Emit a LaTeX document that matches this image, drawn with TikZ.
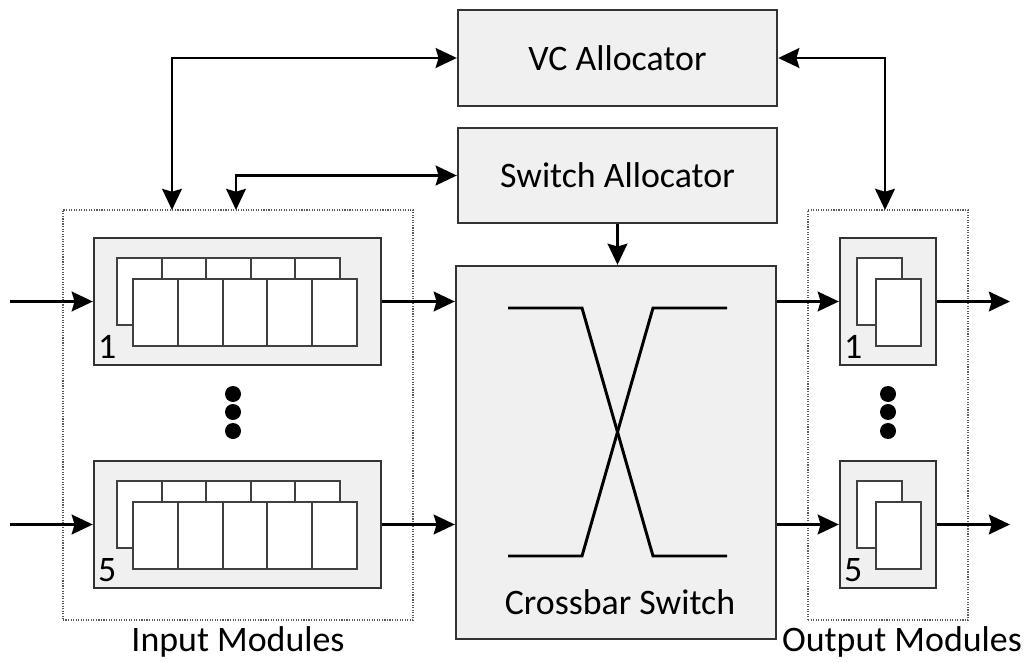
\documentclass[tikz,border=0pt]{standalone}
\usepackage{fontspec}
\setmainfont{Carlito}
\usetikzlibrary{arrows.meta}

\begin{document}
\begin{tikzpicture}[x=0.025cm, y=-0.025cm,
  blk/.style={draw=black!80, line width=1.6pt, fill=black!6, inner sep=0pt},
  grp/.style={draw=black!65, densely dotted, line width=0.8pt, inner sep=0pt},
  buf/.style={draw=black!75, line width=1.3pt, fill=white},
  lnk/.style={line width=2.1pt, -{Stealth[length=15pt,width=14pt,inset=2pt]}},
  both/.style={line width=2.1pt, {Stealth[length=15pt,width=14pt,inset=2pt]}-{Stealth[length=15pt,width=14pt,inset=2pt]}},
  big/.style={font=\fontsize{25.5}{30}\selectfont},
  grplbl/.style={font=\fontsize{25.5}{30}\selectfont},
  num/.style={font=\fontsize{25.5}{30}\selectfont, anchor=base west, inner sep=0pt}]
  \useasboundingbox (0,0) rectangle (1034,663);

  \node[grp, minimum width=8.75cm, minimum height=10.25cm] (inmods) at (238,415) {};
  \node[grp, minimum width=4cm, minimum height=10.25cm] (outmods) at (888,415) {};
  \node[grplbl] (inlbl) at (238,642) {Input Modules};
  \node[grplbl] (outlbl) at (902,642) {Output Modules};

  \node[blk, big, minimum width=7.975cm, minimum height=2.4cm] (vc) at (617.5,58) {VC Allocator};
  \node[blk, big, minimum width=7.975cm, minimum height=2.375cm] (sa) at (617.5,175.5) {Switch Allocator};
  \node[blk, minimum width=8cm, minimum height=9.325cm] (xbar) at (616,452.5) {};
  \node[big] (xlbl) at (620,602) {Crossbar Switch};

  \node[blk, minimum width=7.175cm, minimum height=3.175cm] (im1) at (237.5,301.5) {};
  \node[blk, minimum width=7.175cm, minimum height=3.175cm] (im5) at (237.5,524.5) {};
  \node[blk, minimum width=2.4cm, minimum height=3.175cm] (om1) at (888,301.5) {};
  \node[blk, minimum width=2.4cm, minimum height=3.175cm] (om5) at (888,524.5) {};

  \foreach \m in {im1,im5}{
    \begin{scope}[shift={(\m.center)}]
      \draw[buf] (-120.5,-43.5) rectangle (102.5,23.5);
      \foreach \k in {1,...,4} \draw[buf] (-120.5+44.6*\k,-43.5) -- ++(0,67);
      \draw[buf] (-104.5,-22.5) rectangle (119.5,44.5);
      \foreach \k in {1,...,4} \draw[buf] (-104.5+44.8*\k,-22.5) -- ++(0,67);
    \end{scope}
  }
  \foreach \m in {om1,om5}{
    \begin{scope}[shift={(\m.center)}]
      \draw[buf] (-31,-43.5) rectangle (14,23.5);
      \draw[buf] (-12,-22.5) rectangle (33,44.5);
    \end{scope}
  }
  \node[num] (n1) at ([shift={(5,-8)}]im1.south west) {1};
  \node[num] (n5) at ([shift={(5,-8)}]im5.south west) {5};
  \node[num] (n1o) at ([shift={(5,-8)}]om1.south west) {1};
  \node[num] (n5o) at ([shift={(5,-8)}]om5.south west) {5};

  \foreach \y in {394,412,431}{
    \fill (233,\y) circle (0.2cm);
    \fill (888,\y) circle (0.2cm);
  }

  \draw[line width=2.1pt] (508,308) -- (582,308) -- (653,556) -- (727,556);
  \draw[line width=2.1pt] (727,308) -- (653,308) -- (582,556) -- (508,556);

  \coordinate (in1) at (10,301.5);
  \coordinate (in5) at (10,524.5);
  \coordinate (out1) at (1010,301.5);
  \coordinate (out5) at (1010,524.5);
  \coordinate (vcin) at (172,210);
  \coordinate (sain) at (236,210);
  \coordinate (vcout) at (885,210);

  \draw[lnk] (in1) -- (im1.west);
  \draw[lnk] (in5) -- (im5.west);
  \draw[lnk] (im1.east) -- (im1.east -| xbar.west);
  \draw[lnk] (im5.east) -- (im5.east -| xbar.west);
  \draw[lnk] (om1.west -| xbar.east) -- (om1.west);
  \draw[lnk] (om5.west -| xbar.east) -- (om5.west);
  \draw[lnk] (om1.east) -- (out1);
  \draw[lnk] (om5.east) -- (out5);
  \draw[both] (vcin) |- (vc.west);
  \draw[both] (sain) |- (sa.west);
  \draw[both] (vc.east) -| (vcout);
  \draw[lnk] (sa.south) -- (sa.south |- xbar.north);
\end{tikzpicture}
\end{document}
